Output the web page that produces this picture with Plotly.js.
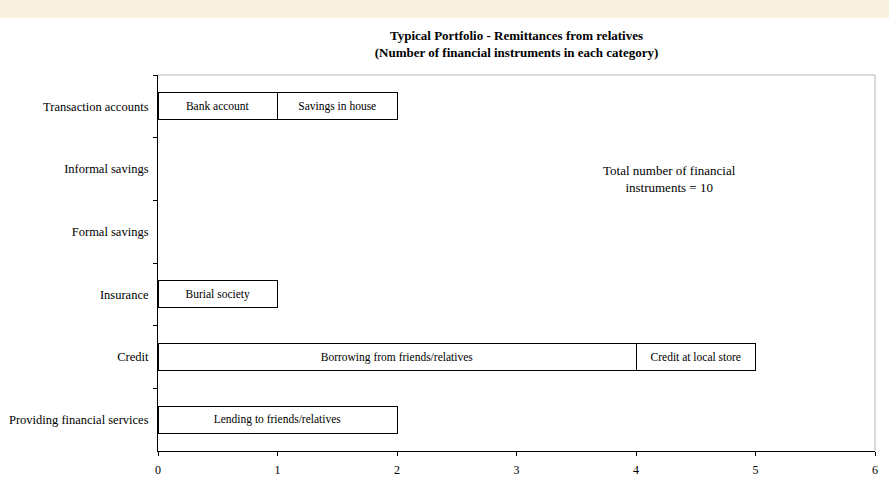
<!DOCTYPE html>
<html>
<head>
<meta charset="utf-8">
<script src="https://cdn.plot.ly/plotly-3.0.1.min.js"></script>
<style>
html,body{margin:0;padding:0;background:#fff;}
#chart{width:889px;height:489px;}
</style>
</head>
<body>
<div id="chart"></div>
<script>
var categories = ["Transaction accounts","Informal savings","Formal savings","Insurance","Credit","Providing financial services"];
var firstValues = [1, null, null, 1, 4, 2];
var firstLabels = ["Bank account","","","Burial society","Borrowing from friends/relatives","Lending to friends/relatives"];
var secondValues = [1, null, null, null, 1, null];
var secondLabels = ["Savings in house","","","","Credit at local store",""];
var xTicks = [0,1,2,3,4,5,6];
var noteText = "Total number of financial<br>instruments = 10";
var titleText = "Typical Portfolio - Remittances from relatives<br>(Number of financial instruments in each category)";

var serif = "Liberation Serif, Times New Roman, serif";

function barTrace(vals, labels, name){
  return {
    type:"bar", orientation:"h", name:name,
    y:categories, x:vals, text:labels,
    textposition:"inside", insidetextanchor:"middle", textangle:0,
    constraintext:"none",
    textfont:{family:serif, size:11.5, color:"#000"},
    marker:{color:"#ffffff", line:{color:"#000", width:1}},
    hoverinfo:"none"
  };
}

var data = [barTrace(firstValues, firstLabels, "First"), barTrace(secondValues, secondLabels, "Second")];

var layout = {
  width:889, height:489,
  margin:{l:158, r:14, t:75, b:38},
  paper_bgcolor:"#ffffff", plot_bgcolor:"#ffffff",
  barmode:"stack", bargap:0.57, showlegend:false,
  font:{family:serif, size:12.5, color:"#000"},
  title:{text:titleText, font:{family:serif, size:13, color:"#000", weight:"bold"},
    x:0.5, xanchor:"center", xref:"paper", y:1-40/489, yanchor:"middle", yref:"container"},
  xaxis:{range:[0,6], tickvals:xTicks, ticktext:xTicks.map(String), showgrid:false, zeroline:false,
    showline:true, linecolor:"#000", linewidth:1, ticks:"outside", ticklen:4, tickcolor:"#000",
    ticklabelstandoff:4,
    tickfont:{family:serif, size:12, color:"#000"}, fixedrange:true},
  yaxis:{type:"category", categoryorder:"array", categoryarray:categories, autorange:"reversed",
    showgrid:false, zeroline:false, showline:true, linecolor:"#000", linewidth:1,
    ticks:"outside", ticklen:4, tickcolor:"#000", tickson:"boundaries", ticklabelstandoff:6,
    tickfont:{family:serif, size:12.5, color:"#000"}, fixedrange:true},
  shapes:[
    {type:"line", xref:"paper", yref:"paper", x0:0, x1:1, y0:1, y1:1, line:{color:"#b4b4b4", width:1}, layer:"below"},
    {type:"line", xref:"paper", yref:"paper", x0:1, x1:1, y0:0, y1:1, line:{color:"#b4b4b4", width:1}, layer:"below"},
    {type:"rect", xref:"paper", yref:"paper", x0:-158/717, x1:(889-158)/717, y0:(451-18)/376, y1:451/376+0.01,
      fillcolor:"#f9f0df", line:{width:0}, layer:"below"}
  ],
  annotations:[
    {text:noteText, xref:"paper", yref:"paper", x:(669-158)/717, y:(451-179)/376,
      xanchor:"center", yanchor:"middle", showarrow:false, align:"center",
      font:{family:serif, size:13, color:"#000"}}
  ]
};

Plotly.newPlot("chart", data, layout, {displayModeBar:false, staticPlot:true});
</script>
</body>
</html>
